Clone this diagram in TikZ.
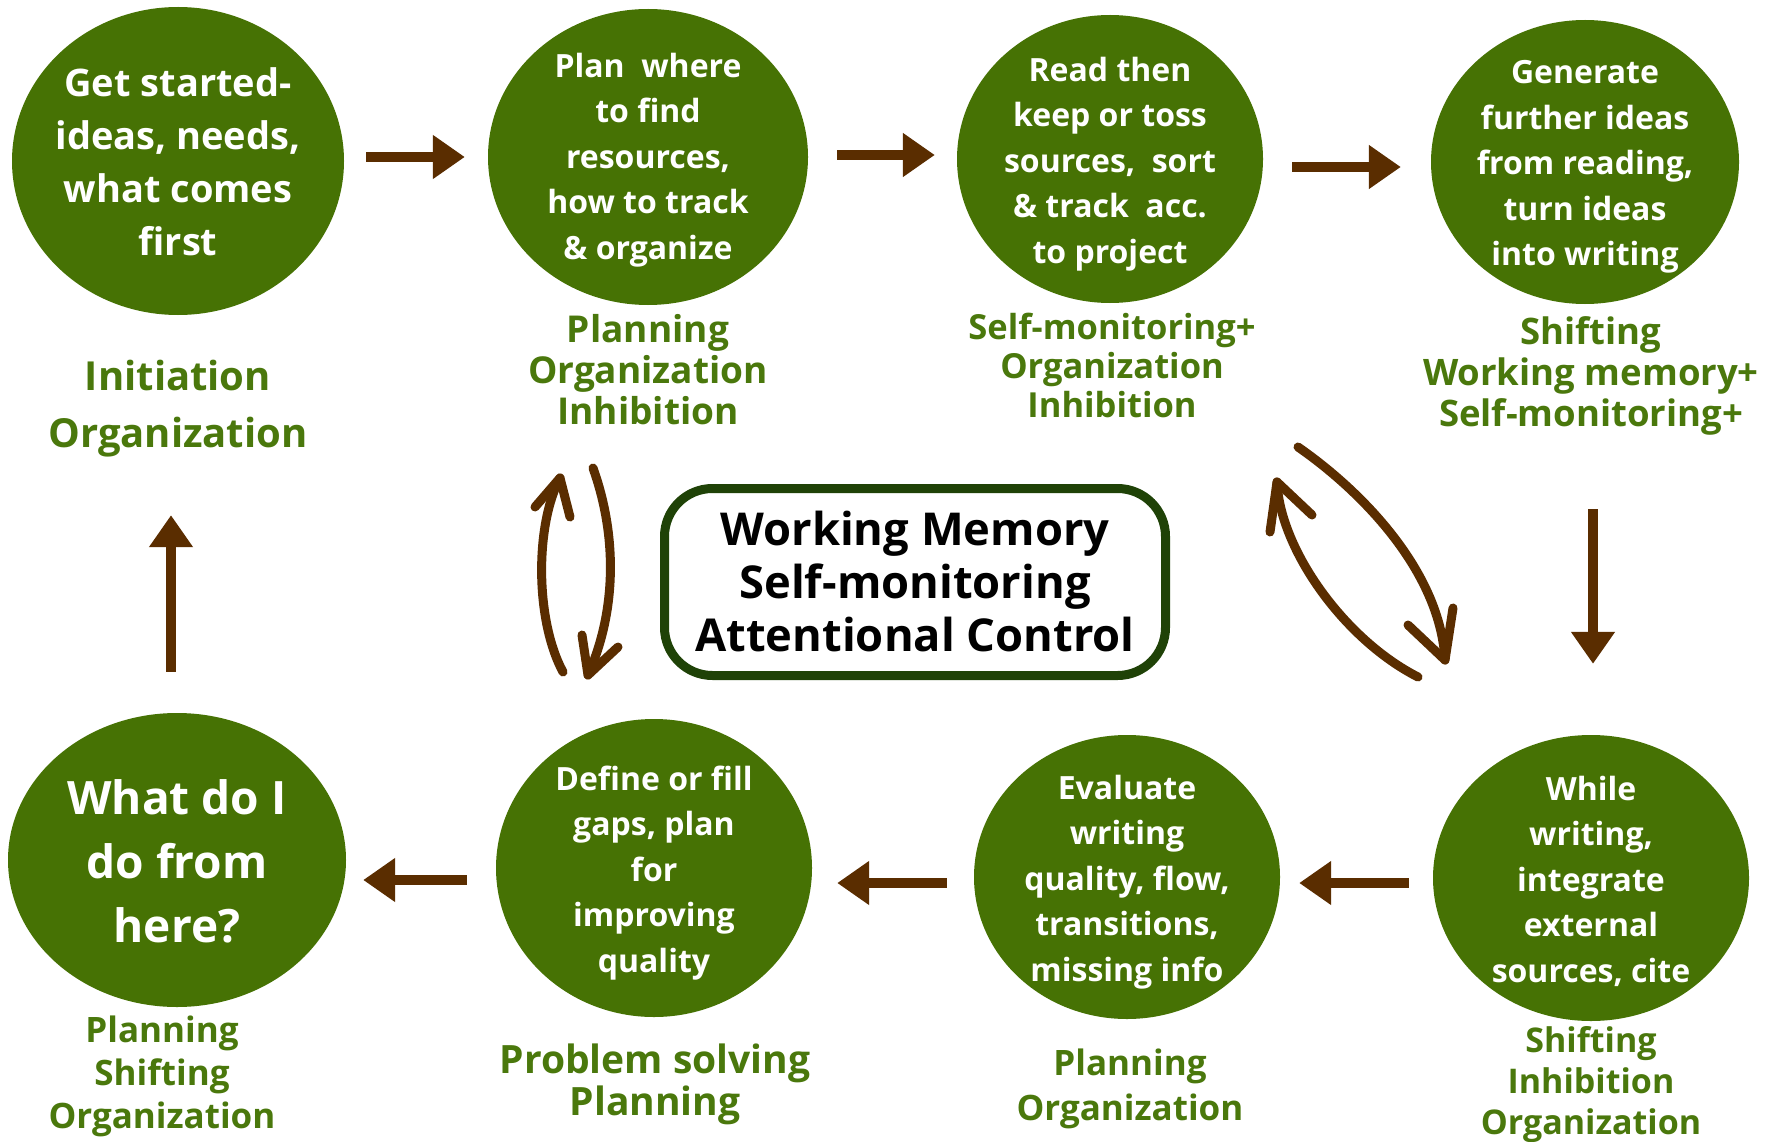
\documentclass[tikz,border=0pt]{standalone}
\usepackage{fontspec}
\setmainfont{Open Sans}
\usetikzlibrary{shapes.geometric,arrows.meta,calc}
\definecolor{cgreen}{HTML}{467204}
\definecolor{lgreen}{HTML}{4A780C}
\definecolor{arrbrown}{HTML}{5A2D00}
\definecolor{boxgreen}{HTML}{1F4207}
\begin{document}
\begin{tikzpicture}[x=1pt,y=-1pt,
  circ/.style={ellipse, fill=cgreen, inner sep=0pt},
  ctext/.style={text=white, align=center, inner sep=0pt, font=\bfseries\fontsize{32}{45.5}\selectfont},
  lab/.style={text=lgreen, align=center, inner sep=0pt},
  arr/.style={draw=arrbrown, line width=10pt, -{Triangle[width=42pt,length=32pt]}},
  hand/.style={draw=arrbrown, line width=9pt, line cap=round, line join=round}]
\useasboundingbox[fill=white] (0,0) rectangle (1779,1142);

% circles
\node[circ, minimum width=332pt, minimum height=308pt] (c1) at (178,161) {};
\node[circ, minimum width=320pt, minimum height=296pt] (c2) at (648,157) {};
\node[circ, minimum width=306pt, minimum height=288pt] (c3) at (1110,159) {};
\node[circ, minimum width=308pt, minimum height=284pt] (c4) at (1585,162) {};
\node[circ, minimum width=316pt, minimum height=286pt] (c5) at (1591,878) {};
\node[circ, minimum width=306pt, minimum height=284pt] (c6) at (1127,877) {};
\node[circ, minimum width=316pt, minimum height=298pt] (c7) at (654,868) {};
\node[circ, minimum width=338pt, minimum height=294pt] (c8) at (177,860) {};

% circle texts
\node[ctext, font=\bfseries\fontsize{38}{53}\selectfont] (t1) at ($(c1)+(0,1)$) {Get started-\\ideas, needs,\\what comes\\first};
\node[ctext] (t2) at ($(c2)+(0,3)$) {Plan~ where\\to find\\resources,\\how to track\\\& organize};
\node[ctext] (t3) at ($(c3)+(0,5)$) {Read then\\keep or toss\\sources,~ sort\\\& track~ acc.\\to project};
\node[ctext] (t4) at ($(c4)+(0,5)$) {Generate\\further ideas\\from reading,\\turn ideas\\into writing};
\node[ctext] (t5) at ($(c5)+(0,3)$) {While\\writing,\\integrate\\external\\sources, cite};
\node[ctext] (t6) at ($(c6)+(0,5)$) {Evaluate\\writing\\quality, flow,\\transitions,\\missing info};
\node[ctext] (t7) at ($(c7)+(0,5)$) {Define or fill\\gaps, plan\\for\\improving\\quality};
\node[ctext, font=\bfseries\fontsize{46}{64}\selectfont] (t8) at ($(c8)+(0,1)$) {What do I\\do from\\here?};

% labels
\node[lab, font=\bfseries\fontsize{40}{57}\selectfont] (l1) at (178,409) {Initiation\\Organization};
\node[lab, font=\bfseries\fontsize{37}{41}\selectfont] (l2) at (648,370) {Planning\\Organization\\Inhibition};
\node[lab, font=\bfseries\fontsize{34.5}{39}\selectfont] (l3) at (1112,365) {Self-monitoring+\\Organization\\Inhibition};
\node[lab, font=\bfseries\fontsize{36.5}{41}\selectfont] (l4) at (1591,376) {Shifting\\Working memory+\\Self-monitoring+};
\node[lab, font=\bfseries\fontsize{34}{41}\selectfont] (l5) at (1591,1085) {Shifting\\Inhibition\\Organization};
\node[lab, font=\bfseries\fontsize{35}{45}\selectfont] (l6) at (1130,1089) {Planning\\Organization};
\node[lab, font=\bfseries\fontsize{39}{42}\selectfont] (l7) at (655,1084) {Problem solving\\Planning};
\node[lab, font=\bfseries\fontsize{35}{43}\selectfont] (l8) at (162,1076) {Planning\\Shifting\\Organization};

% centre box
\node[draw=boxgreen, line width=9pt, rounded corners=48pt, minimum width=501pt, minimum height=187pt,
      align=center, inner sep=0pt, font=\bfseries\fontsize{45.3}{53}\selectfont] (wm) at (915,582)
  {Working Memory\\Self-monitoring\\Attentional Control};

% straight arrows
\draw[arr] ($(c1.east)+(22,-4)$) -- ($(c2.west)+(-23,0)$);
\draw[arr] ($(c2.east)+(29,-2)$) -- ($(c3.west)+(-22,-4)$);
\draw[arr] ($(c3.east)+(29,8)$) -- ($(c4.west)+(-30,5)$);
\draw[arr] ($(c4.south)+(8,205)$) -- ($(c5.north)+(2,-71)$);
\draw[arr] ($(c5.west)+(-24,5)$) -- ($(c6.east)+(19,6)$);
\draw[arr] ($(c6.west)+(-27,6)$) -- ($(c7.east)+(25,15)$);
\draw[arr] ($(c7.west)+(-29,12)$) -- ($(c8.east)+(17,20)$);
\draw[arr] ($(c8.north)+(-6,-41)$) -- ($(c1.south)+(-7,200)$);

% hand-drawn double arrows, left
\coordinate (la0) at (563,672);
\coordinate (la1) at (560,478);
\coordinate (lb0) at (593,468);
\coordinate (lb1) at (588,675);
\draw[hand] (la0) .. controls (535,620) and (535,525) .. (la1);
\draw[hand] (535,507) -- (la1) -- (570,517);
\draw[hand] (lb0) .. controls (617,535) and (617,610) .. (lb1);
\draw[hand] (582,635) -- (lb1) -- (618,647);

% hand-drawn double arrows, right
\coordinate (ra0) at (1418,677);
\coordinate (ra1) at (1277,482);
\coordinate (rb0) at (1298,447);
\coordinate (rb1) at (1445,660);
\draw[hand] (ra0) .. controls (1345,640) and (1280,550) .. (ra1);
\draw[hand] (1270,532) -- (ra1) -- (1312,515);
\draw[hand] (rb0) .. controls (1360,490) and (1440,570) .. (rb1);
\draw[hand] (1408,625) -- (rb1) -- (1453,608);
\end{tikzpicture}
\end{document}
